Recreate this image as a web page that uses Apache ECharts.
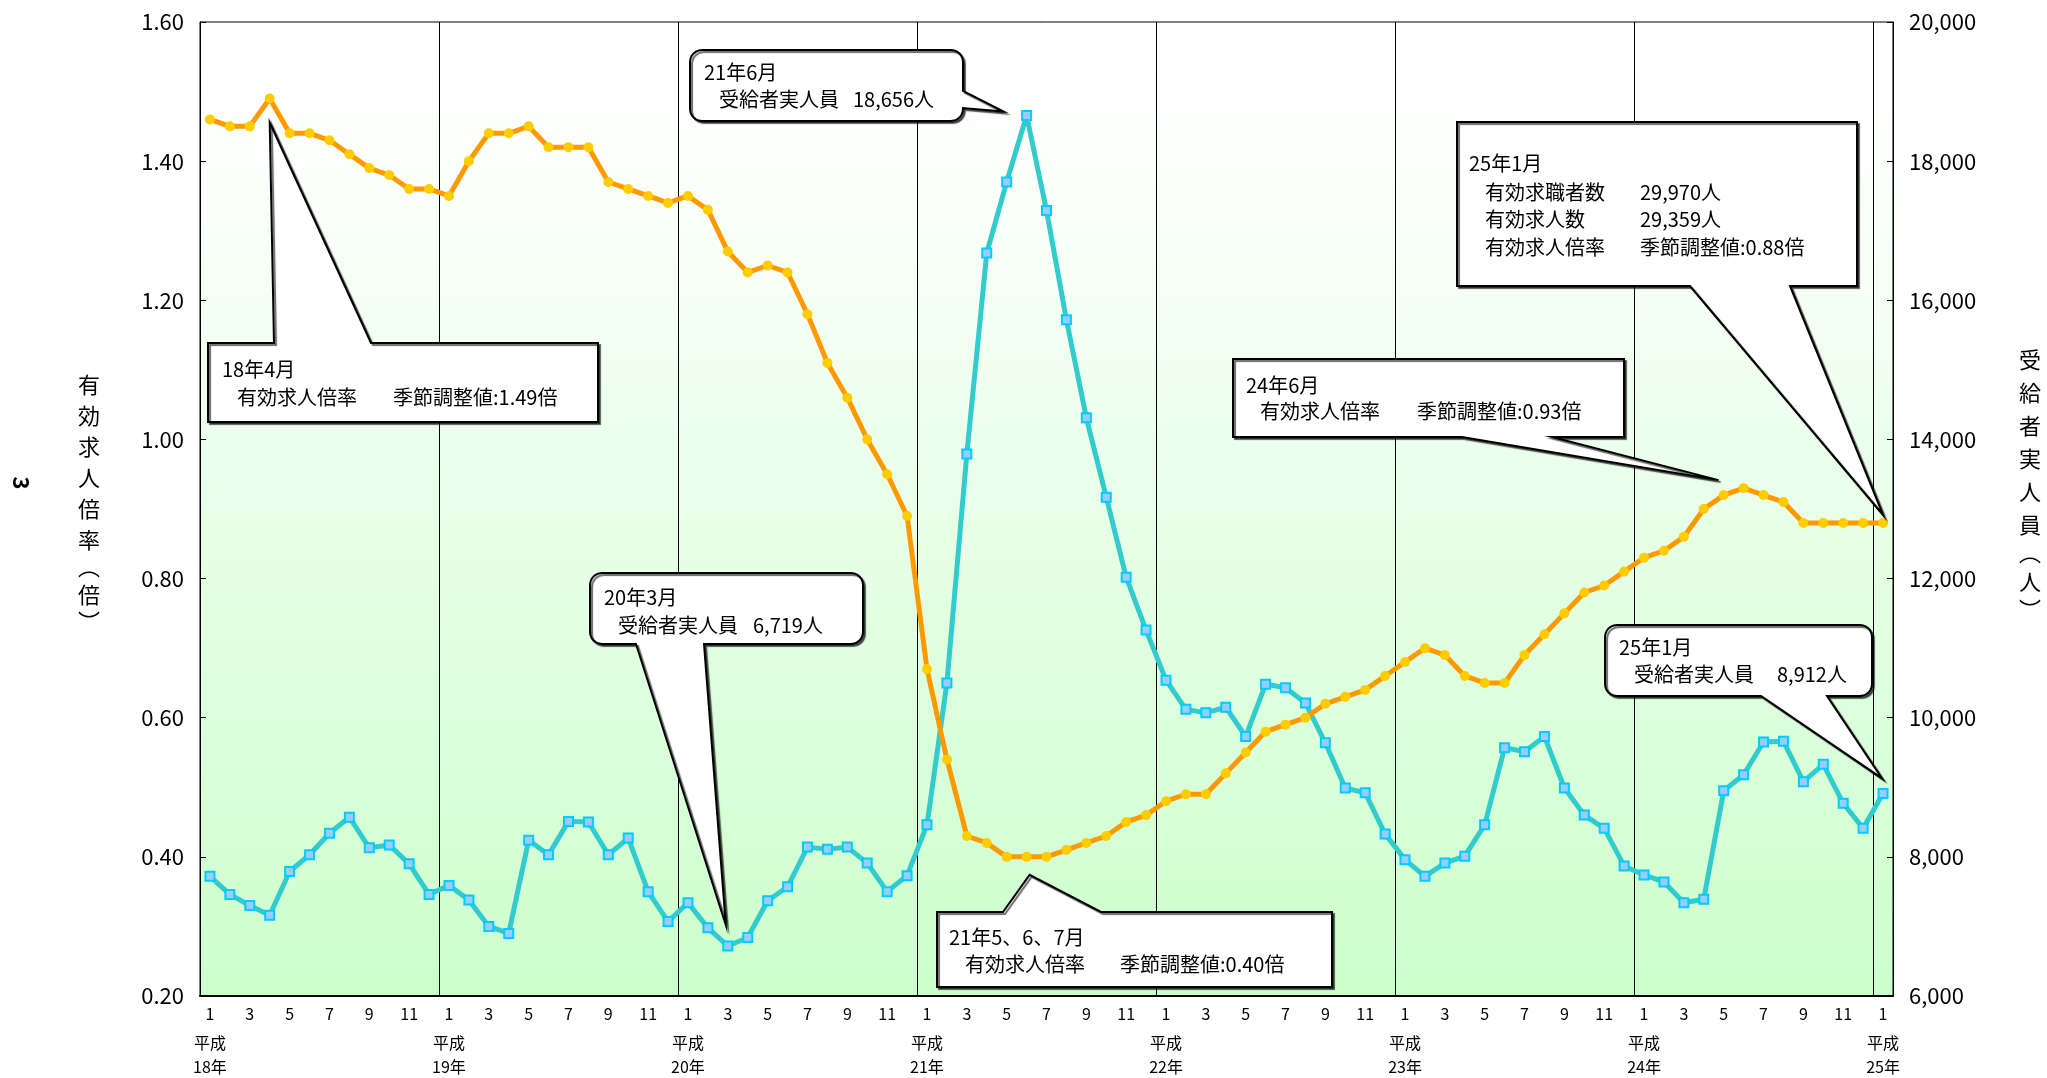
<!DOCTYPE html>
<html>
<head>
<meta charset="utf-8">
<script src="https://cdn.jsdelivr.net/npm/echarts@6/dist/echarts.min.js"></script>
<style>
html,body{margin:0;padding:0;background:#fff;}
#main{width:2047px;height:1078px;}
</style>
</head>
<body>
<div id="main"></div>
<script>
var yearNames = ['18年','19年','20年','21年','22年','23年','24年','25年'];

// 有効求人倍率（季節調整値）H18.1 - H25.1
var ratio = [
    1.46,1.45,1.45,1.49,1.44,1.44,1.43,1.41,1.39,1.38,1.36,1.36,
    1.35,1.40,1.44,1.44,1.45,1.42,1.42,1.42,1.37,1.36,1.35,1.34,
    1.35,1.33,1.27,1.24,1.25,1.24,1.18,1.11,1.06,1.00,0.95,0.89,
    0.67,0.54,0.43,0.42,0.40,0.40,0.40,0.41,0.42,0.43,0.45,0.46,
    0.48,0.49,0.49,0.52,0.55,0.58,0.59,0.60,0.62,0.63,0.64,0.66,
    0.68,0.70,0.69,0.66,0.65,0.65,0.69,0.72,0.75,0.78,0.79,0.81,
    0.83,0.84,0.86,0.90,0.92,0.93,0.92,0.91,0.88,0.88,0.88,0.88,
    0.88
];

// 受給者実人員（人）
var recipients = [
    7720,7460,7300,7160,7790,8030,8340,8570,8130,8170,7900,7460,
    7590,7380,7000,6900,8240,8030,8510,8500,8030,8270,7500,7070,
    7340,6980,6719,6840,7370,7570,8140,8110,8140,7910,7500,7730,
    8460,10500,13790,16680,17700,18656,17290,15720,14310,13170,12020,11260,
    10540,10120,10070,10150,9730,10480,10430,10210,9640,8990,8920,8330,
    7960,7720,7910,8010,8460,9570,9510,9730,8990,8600,8410,7870,
    7740,7640,7340,7390,8950,9180,9650,9660,9080,9330,8770,8410,
    8912
];

var categories = [];
for (var i = 0; i < yearNames.length; i++) {
    for (var m = 1; m <= 12; m++) {
        if (i == yearNames.length - 1 && m > 1) break;
        categories.push(yearNames[i] + m + '月');
    }
}

var FONT = "'Liberation Sans Narrow','Noto Sans CJK JP',sans-serif";
var CJK = "'Liberation Sans Narrow','Noto Sans CJK JP',sans-serif";

var chart = echarts.init(document.getElementById('main'));
var option = {
    animation: false,
    backgroundColor: '#ffffff',
    grid: {
        left: 200,
        right: 154,
        top: 22,
        bottom: 82,
        show: true,
        borderColor: '#000',
        borderWidth: 1,
        backgroundColor: new echarts.graphic.LinearGradient(0, 0, 0, 1, [
            {offset: 0, color: '#ffffff'},
            {offset: 0.15, color: '#fcfffc'},
            {offset: 1, color: '#ccffcc'}
        ])
    },
    xAxis: {
        type: 'category',
        data: categories,
        boundaryGap: true,
        axisLine: {lineStyle: {color: '#000', width: 2}},
        axisTick: {show: false},
        splitLine: {
            show: true,
            interval: function (index) { return index % 12 === 0; },
            lineStyle: {color: '#000', width: 1}
        },
        axisLabel: {
            interval: 1,
            margin: 2,
            color: '#000',
            formatter: function (value, index) {
                var month = index % 12 + 1;
                if (month == 1) {
                    return '{m|1}\n{y|平成}\n{z|' + yearNames[Math.floor(index / 12)] + '}';
                }
                return '{m|' + month + '}';
            },
            rich: {
                m: {fontSize: 16, lineHeight: 32, fontFamily: FONT, color: '#000'},
                y: {fontSize: 16, lineHeight: 26, fontFamily: CJK, color: '#000'},
                z: {fontSize: 16, lineHeight: 22, fontFamily: CJK, color: '#000'}
            }
        }
    },
    yAxis: [
        {
            type: 'value',
            min: 0.2,
            max: 1.6,
            interval: 0.2,
            axisLine: {show: true, lineStyle: {color: '#000', width: 1}},
            axisTick: {show: true, inside: true, length: 6, lineStyle: {color: '#000'}},
            splitLine: {show: false},
            axisLabel: {
                margin: 16,
                color: '#000',
                fontSize: 22,
                fontFamily: FONT,
                formatter: function (v) { return v.toFixed(2); }
            }
        },
        {
            type: 'value',
            min: 6000,
            max: 20000,
            interval: 2000,
            axisLine: {show: true, lineStyle: {color: '#000', width: 1}},
            axisTick: {show: true, inside: true, length: 6, lineStyle: {color: '#000'}},
            splitLine: {show: false},
            axisLabel: {
                margin: 16,
                color: '#000',
                fontSize: 22,
                fontFamily: FONT,
                formatter: function (v) { return v.toLocaleString('en-US'); }
            }
        }
    ],
    series: [
        {
            name: '受給者実人員',
            type: 'line',
            yAxisIndex: 1,
            data: recipients,
            symbol: 'rect',
            symbolSize: 9,
            lineStyle: {color: '#33cccc', width: 5},
            itemStyle: {color: '#99ccff', borderColor: '#00ccff', borderWidth: 2},
            z: 2
        },
        {
            name: '有効求人倍率',
            type: 'line',
            yAxisIndex: 0,
            data: ratio,
            symbol: 'circle',
            symbolSize: 10,
            lineStyle: {color: '#ff9900', width: 5},
            itemStyle: {color: '#ffcc00', borderWidth: 0},
            z: 3
        }
    ]
};
chart.setOption(option);

// 吹き出しの形
function arc(cx, cy, r, a0, a1, pts) {
    for (var i = 0; i <= 6; i++) {
        var a = a0 + (a1 - a0) * i / 6;
        pts.push([cx + r * Math.cos(a), cy + r * Math.sin(a)]);
    }
}
function calloutPoints(b, t) {
    var x = b.x, y = b.y, w = b.w, h = b.h, r = b.r || 0;
    var pts = [];
    if (r) arc(x + r, y + r, r, Math.PI, Math.PI * 1.5, pts); else pts.push([x, y]);
    if (t.side == 'top') pts.push([t.a, y], t.tip, [t.b, y]);
    if (r) arc(x + w - r, y + r, r, -Math.PI / 2, 0, pts); else pts.push([x + w, y]);
    if (t.side == 'right') pts.push([x + w, t.a], t.tip, [x + w, t.b]);
    if (r) arc(x + w - r, y + h - r, r, 0, Math.PI / 2, pts); else pts.push([x + w, y + h]);
    if (t.side == 'bottom') pts.push([t.b, y + h], t.tip, [t.a, y + h]);
    if (r) arc(x + r, y + h - r, r, Math.PI / 2, Math.PI, pts); else pts.push([x, y + h]);
    return pts;
}
function tipAt(axis, idx, val, dx, dy) {
    var p = chart.convertToPixel({xAxisIndex: 0, yAxisIndex: axis}, [idx, val]);
    return [p[0] + dx, p[1] + dy];
}

var callouts = [
    {box: {x: 208, y: 343, w: 390, h: 79}, tail: {side: 'top', a: 274, b: 371, tip: tipAt(0, 3, ratio[3], 0, 24)},
     texts: [['18年4月', 222, 369], ['有効求人倍率', 237, 397], ['季節調整値:1.49倍', 393, 397]]},
    {box: {x: 690, y: 50, w: 273, h: 71, r: 12}, tail: {side: 'right', a: 91, b: 108, tip: tipAt(1, 41, recipients[41], -23, -4)},
     texts: [['21年6月', 704, 72], ['受給者実人員', 719, 99], ['18,656人', 853, 99]]},
    {box: {x: 1457, y: 122, w: 400, h: 164}, tail: {side: 'bottom', a: 1690, b: 1790, tip: tipAt(0, 84, ratio[84], 0, -8)},
     texts: [['25年1月', 1469, 163], ['有効求職者数', 1485, 192], ['29,970人', 1640, 192],
             ['有効求人数', 1485, 219], ['29,359人', 1640, 219],
             ['有効求人倍率', 1485, 247], ['季節調整値:0.88倍', 1640, 247]]},
    {box: {x: 1233, y: 359, w: 391, h: 78}, tail: {side: 'bottom', a: 1462, b: 1552, tip: tipAt(0, 77, ratio[77], -25, -8)},
     texts: [['24年6月', 1246, 385], ['有効求人倍率', 1260, 411], ['季節調整値:0.93倍', 1417, 411]]},
    {box: {x: 590, y: 573, w: 273, h: 71, r: 12}, tail: {side: 'bottom', a: 636, b: 704, tip: tipAt(1, 26, recipients[26], -2, -21)},
     texts: [['20年3月', 604, 597], ['受給者実人員', 618, 625], ['6,719人', 753, 625]]},
    {box: {x: 937, y: 912, w: 395, h: 75}, tail: {side: 'top', a: 1003, b: 1101, tip: tipAt(0, 41, ratio[41], 3, 18)},
     texts: [['21年5、6、7月', 949, 937], ['有効求人倍率', 965, 964], ['季節調整値:0.40倍', 1120, 964]]},
    {box: {x: 1605, y: 625, w: 267, h: 71, r: 12}, tail: {side: 'bottom', a: 1761, b: 1827, tip: tipAt(1, 84, recipients[84], -1, -15)},
     texts: [['25年1月', 1619, 647], ['受給者実人員', 1634, 674], ['8,912人', 1777, 674]]}
];

var graphics = [];
callouts.forEach(function (c) {
    graphics.push({
        type: 'polygon',
        z: 100,
        shape: {points: calloutPoints(c.box, c.tail)},
        style: {
            fill: '#ffffff',
            stroke: '#000',
            lineWidth: 2,
            shadowColor: 'rgba(0,0,0,0.6)',
            shadowBlur: 1,
            shadowOffsetX: 2,
            shadowOffsetY: 2
        }
    });
    c.texts.forEach(function (t) {
        graphics.push({
            type: 'text',
            z: 101,
            x: t[1],
            y: t[2],
            style: {text: t[0], fill: '#000', font: '20px ' + CJK, align: 'left', verticalAlign: 'middle'}
        });
    });
});

// 軸タイトル（縦書き）
var vRich = {
    c: {fontSize: 22, lineHeight: 31, fontFamily: CJK, color: '#000'},
    b: {fontSize: 22, lineHeight: 24, fontFamily: CJK, color: '#000'}
};
function vertical(str) {
    return str.split('').map(function (ch) {
        return (ch == '︵' || ch == '︶') ? '{b|' + ch + '}' : '{c|' + ch + '}';
    }).join('\n');
}
graphics.push({
    type: 'text', z: 50, x: 89, y: 369,
    style: {text: vertical('有効求人倍率︵倍︶'), rich: vRich, align: 'center', verticalAlign: 'top'}
});
graphics.push({
    type: 'text', z: 50, x: 2030, y: 343,
    style: {text: vertical('受給者実人員︵人︶'), rich: {
        c: {fontSize: 22, lineHeight: 33, fontFamily: CJK, color: '#000'},
        b: {fontSize: 22, lineHeight: 24, fontFamily: CJK, color: '#000'}
    }, align: 'center', verticalAlign: 'top'}
});
// ページ番号
graphics.push({
    type: 'text', z: 50, x: 21, y: 483, rotation: -Math.PI / 2,
    style: {text: '3', fill: '#000', font: 'bold 22px ' + FONT, align: 'center', verticalAlign: 'middle'}
});

chart.setOption({graphic: graphics});
</script>
</body>
</html>
